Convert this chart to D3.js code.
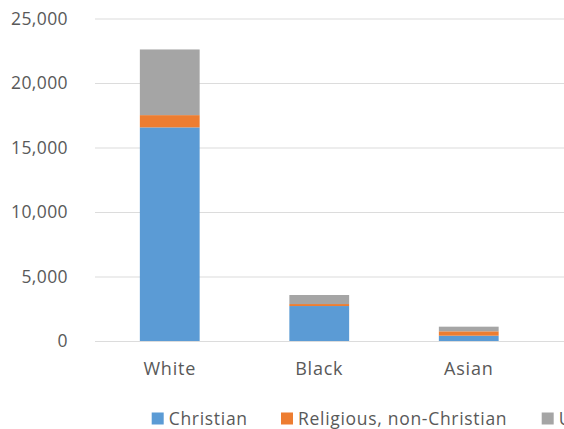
<!DOCTYPE html>
<html><head><meta charset="utf-8">
<script src="https://cdn.jsdelivr.net/npm/d3@7"></script>
<style>body{margin:0;background:#fff}svg{display:block}text{font-family:"Open Sans",Lato,sans-serif;fill:#595959}</style>
</head><body><svg width="564" height="429"></svg>
<script>
const categories = ["White", "Black", "Asian"];
const seriesNames = ["Christian", "Religious, non-Christian", "Unaffiliated"];
const christian = [16560, 2710, 410];
const religiousNonChristian = [950, 155, 340];
const unaffiliated = [5090, 700, 360];
const yTicks = [0, 5000, 10000, 15000, 20000, 25000];
const colors = ["#5B9BD5", "#ED7D31", "#A5A5A5"];

const rows = categories.map((c, i) => ({cat: c, "Christian": christian[i], "Religious, non-Christian": religiousNonChristian[i], "Unaffiliated": unaffiliated[i]}));
const stacked = d3.stack().keys(seriesNames)(rows);

const svg = d3.select("svg");
const x = d3.scaleBand().domain(categories).range([95, 543.5]).paddingInner(0.6).paddingOuter(0.3);
const y = d3.scaleLinear().domain([0, 25000]).range([341, 18.5]);
const color = d3.scaleOrdinal().domain(seriesNames).range(colors);

// gridlines
const yAxis = d3.axisLeft(y).tickValues(yTicks).tickFormat(d3.format(",")).tickSize(-(564 - 95)).tickPadding(27);
const gy = svg.append("g").attr("transform", "translate(95,0)").call(yAxis);
gy.select(".domain").remove();
gy.selectAll(".tick line").attr("stroke", "#DCDCDC").attr("stroke-width", 1.2);
gy.selectAll(".tick text").attr("font-size", 17.5).attr("letter-spacing", 0.4).attr("fill", "#595959");

// bars
svg.append("g").selectAll("g").data(stacked).join("g").attr("fill", d => color(d.key))
  .selectAll("rect").data(d => d).join("rect")
  .attr("x", d => x(d.data.cat)).attr("width", x.bandwidth())
  .attr("y", d => y(d[1])).attr("height", d => y(d[0]) - y(d[1]));

// x axis labels
const xAxis = d3.axisBottom(x).tickSize(0);
const gx = svg.append("g").attr("transform", "translate(0,341)").call(xAxis);
gx.select(".domain").remove();
gx.selectAll(".tick text").attr("dy", null).attr("y", 34).attr("font-size", 18).attr("letter-spacing", 0.8).attr("fill", "#595959");

// legend
const legendX = [151.7, 281, 541.7];
const lg = svg.append("g").selectAll("g").data(seriesNames).join("g")
  .attr("transform", (d, i) => `translate(${legendX[i]},412.5)`);
lg.append("rect").attr("width", 12).attr("height", 12).attr("fill", d => color(d));
lg.append("text").attr("x", 17).attr("y", 12).attr("font-size", 17.5).attr("letter-spacing", 0.7).text(d => d);
</script></body></html>
